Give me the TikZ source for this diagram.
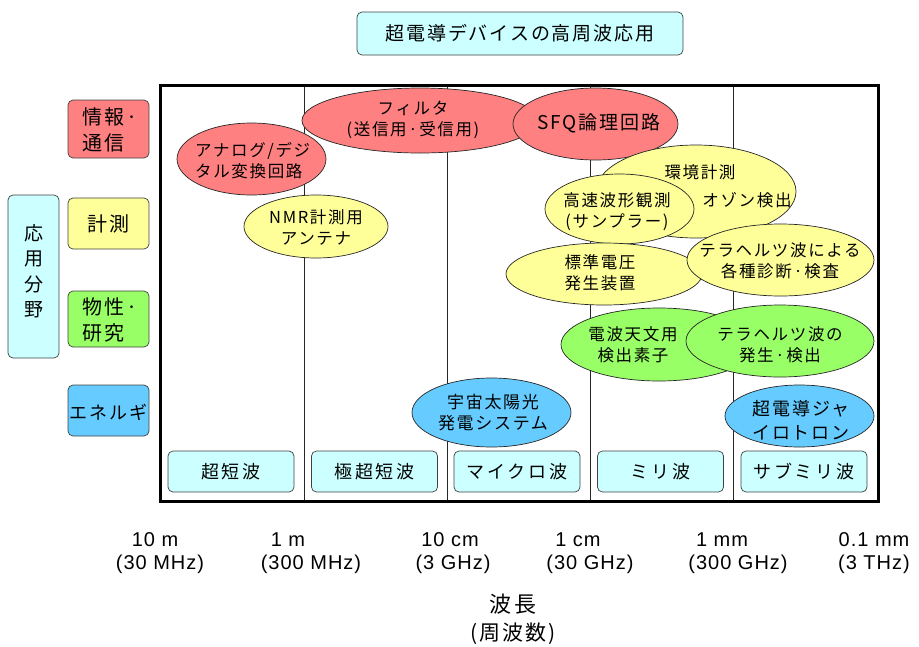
\documentclass[tikz,border=0pt]{standalone}
\usepackage{fontspec}
\setmainfont{Liberation Sans}
\newfontfamily\jpten[LetterSpace=10]{Noto Sans CJK JP}
\newfontfamily\jptw[LetterSpace=12]{Noto Sans CJK JP}
\newfontfamily\jpsx[LetterSpace=16]{Noto Sans CJK JP}
\newfontfamily\lsans[LetterSpace=5]{Liberation Sans}
\usetikzlibrary{shapes.geometric}
\definecolor{cred}{RGB}{255,128,128}
\definecolor{cyel}{RGB}{255,255,153}
\definecolor{cgrn}{RGB}{153,255,102}
\definecolor{cblu}{RGB}{102,204,255}
\definecolor{ccyan}{RGB}{204,255,255}
\tikzset{
  ell/.style={ellipse, draw=black!85, line width=0.7pt, inner sep=0pt},
  etxt/.style={font=\jpten\fontsize{16.5}{21}\selectfont, align=center, inner sep=0pt},
  rbox/.style={rectangle, rounded corners=5pt, draw=black!75, line width=0.7pt, inner sep=0pt},
  bandbox/.style={rbox, fill=ccyan, minimum width=126, minimum height=41, font=\jpsx\fontsize{18}{22}\selectfont},
  catbox/.style={rbox, minimum width=81},
  cattxt/.style={font=\jptw\fontsize{20}{26}\selectfont, align=left, inner sep=0pt},
  numtxt/.style={font=\lsans\fontsize{20}{22}\selectfont, inner sep=0pt},
  divider/.style={line width=0.8pt, black!85},
}
\begin{document}
\begin{tikzpicture}[x=1pt,y=-1pt]
\useasboundingbox (0,0) rectangle (919,646);
% title
\node[rbox, fill=ccyan, minimum width=326, minimum height=43, font=\jpten\fontsize{19}{22}\selectfont] (title) at (520,33.5) {超電導デバイスの高周波応用};
% left side
\node[rbox, fill=ccyan, minimum width=51, minimum height=163] (field) at (33.5,276.5) {};
\node[font=\jpten\fontsize{19}{25.5}\selectfont, align=center, inner sep=0pt] (fieldt) at (33.5,271.5) {応\\用\\分\\野};
\node[catbox, fill=cred, minimum height=58] (c1) at (108.5,129) {};
\node[cattxt, anchor=west] (c1t) at (82,130) {情報·\\通信};
\node[catbox, fill=cyel, minimum height=51] (c2) at (108.5,223.5) {};
\node[cattxt] (c2t) at (108.5,224) {計測};
\node[catbox, fill=cgrn, minimum height=56] (c3) at (108.5,319) {};
\node[cattxt, anchor=west] (c3t) at (82,320) {物性·\\研究};
\node[catbox, fill=cblu, minimum height=51] (c4) at (108.5,410.5) {};
\node[font=\jpten\fontsize{18}{22}\selectfont, inner sep=0pt] (c4t) at (108.5,412) {エネルギ};
% dividers and frame
\coordinate (d1t) at (304,85); \coordinate (d1b) at (304,501);
\coordinate (d2t) at (447,85); \coordinate (d2b) at (447,501);
\coordinate (d3t) at (590,85); \coordinate (d3b) at (590,501);
\coordinate (d4t) at (733,85); \coordinate (d4b) at (733,501);
\draw[divider] (d1t) -- (d1b);
\draw[divider] (d2t) -- (d2b);
\draw[divider] (d3t) -- (d3b);
\draw[divider] (d4t) -- (d4b);
\draw[line width=3pt] (160,85) rectangle (878,501);
% red ellipses
\node[ell, fill=cred, minimum width=236, minimum height=65] (efil) at (420,120.5) {};
\node[etxt] (efilt) at (413,119.5) {フィルタ\\(送信用·受信用)};
\node[ell, fill=cred, minimum width=149, minimum height=72] (eana) at (251.5,159) {};
\node[etxt, align=left, anchor=west] (eanat) at (195,161) {アナログ/デジ\\タル変換回路};
\node[ell, fill=cred, minimum width=165, minimum height=72] (esfq) at (595.5,124) {};
\node[etxt, font=\jpten\fontsize{19}{22}\selectfont] (esfqt) at (599,123) {SFQ論理回路};
% yellow ellipses
\node[ell, fill=cyel, minimum width=144, minimum height=63] (enmr) at (316,226.5) {};
\node[etxt] (enmrt) at (316,227.5) {NMR計測用\\アンテナ};
\node[ell, fill=cyel, minimum width=200, minimum height=93] (eenv) at (696,191.5) {};
\node[etxt] (eenvt1) at (700,172) {環境計測};
\node[etxt] (eenvt2) at (747,200) {オゾン検出};
\node[ell, fill=cyel, minimum width=149, minimum height=70] (efast) at (619.5,209) {};
\node[etxt] (efastt) at (617,211.5) {高速波形観測\\(サンプラー)};
\node[ell, fill=cyel, minimum width=196, minimum height=62] (estd) at (604,274) {};
\node[etxt] (estdt) at (600,273) {標準電圧\\発生装置};
\node[ell, fill=cyel, minimum width=187, minimum height=72] (ethzd) at (780.5,260) {};
\node[etxt] (ethzdt) at (780,260.5) {テラヘルツ波による\\各種診断·検査};
% green ellipses
\node[ell, fill=cgrn, minimum width=196, minimum height=73] (eastro) at (659,344.5) {};
\node[etxt] (eastrot) at (633,345) {電波天文用\\検出素子};
\node[ell, fill=cgrn, minimum width=188, minimum height=72] (ethzg) at (780,341) {};
\node[etxt] (ethzgt) at (780,345) {テラヘルツ波の\\発生·検出};
% blue ellipses
\node[ell, fill=cblu, minimum width=159, minimum height=69] (espace) at (491.5,412.5) {};
\node[etxt, font=\jpten\fontsize{17}{21}\selectfont] (espacet) at (493,412.5) {宇宙太陽光\\発電システム};
\node[ell, fill=cblu, minimum width=149, minimum height=62] (egyro) at (799.5,416) {};
\node[etxt, font=\jpten\fontsize{18}{24}\selectfont] (egyrot) at (801,420) {超電導ジャ\\イロトロン};
% band boxes
\node[bandbox] (b1) at (231,471.5) {超短波};
\node[bandbox] (b2) at (374.5,471.5) {極超短波};
\node[bandbox] (b3) at (517,471.5) {マイクロ波};
\node[bandbox] (b4) at (660.5,471.5) {ミリ波};
\node[bandbox] (b5) at (804,471.5) {サブミリ波};
% axis labels
\node[numtxt] (w1) at (155,540) {10 m};
\node[numtxt] (f1) at (160,564) {(30 MHz)};
\node[numtxt] (w2) at (288,540) {1 m};
\node[numtxt] (f2) at (311,564) {(300 MHz)};
\node[numtxt] (w3) at (450,540) {10 cm};
\node[numtxt] (f3) at (453,564) {(3 GHz)};
\node[numtxt] (w4) at (578,540) {1 cm};
\node[numtxt] (f4) at (590,564) {(30 GHz)};
\node[numtxt] (w5) at (722,540) {1 mm};
\node[numtxt] (f5) at (738,564) {(300 GHz)};
\node[numtxt] (w6) at (874,540) {0.1 mm};
\node[numtxt] (f6) at (874,564) {(3 THz)};
\node[font=\jpten\fontsize{22}{26}\selectfont, inner sep=0pt] (axw) at (513,604) {波長};
\node[font=\jpten\fontsize{21}{26}\selectfont, inner sep=0pt] (axf) at (513,634) {(周波数)};
\end{tikzpicture}
\end{document}
